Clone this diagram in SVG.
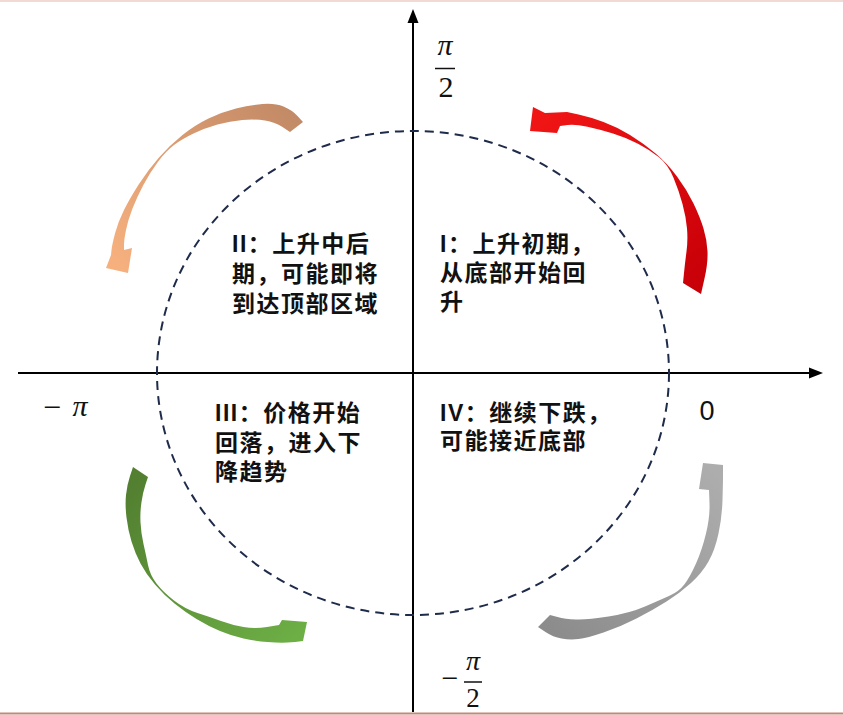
<svg xmlns="http://www.w3.org/2000/svg" width="843" height="715" viewBox="0 0 843 715">
<defs>
<style>
.q{font-family:"Liberation Sans","Noto Sans CJK SC",sans-serif;font-weight:bold;font-size:23px;letter-spacing:1.5px;fill:#111}
.m{font-family:"Liberation Serif","DejaVu Serif",serif;fill:#111}
.mi{font-style:italic}
.ax{stroke:#000;stroke-width:2;fill:none}
</style>
<linearGradient id="gRed" gradientUnits="userSpaceOnUse" x1="693" y1="290" x2="540" y2="118">
<stop offset="0" stop-color="#C80008"/><stop offset="1" stop-color="#F01515"/>
</linearGradient>
<linearGradient id="gBrown" gradientUnits="userSpaceOnUse" x1="296" y1="118" x2="118" y2="265">
<stop offset="0" stop-color="#C28A66"/><stop offset="1" stop-color="#F6B07E"/>
</linearGradient>
<linearGradient id="gGreen" gradientUnits="userSpaceOnUse" x1="140" y1="472" x2="300" y2="632">
<stop offset="0" stop-color="#527F30"/><stop offset="1" stop-color="#6DAE45"/>
</linearGradient>
<linearGradient id="gGray" gradientUnits="userSpaceOnUse" x1="544" y1="621" x2="713" y2="470">
<stop offset="0" stop-color="#8C8C8C"/><stop offset="1" stop-color="#ADADAD"/>
</linearGradient>
</defs>
<rect width="843" height="715" fill="#fff"/>
<line x1="0" y1="1" x2="843" y2="1" stroke="#F3D9D3" stroke-width="2"/>
<line x1="0" y1="713.5" x2="843" y2="713.5" stroke="#C4887A" stroke-width="2"/>

<g id="axes">
<line class="ax" x1="18" y1="373" x2="812" y2="373"/>
<polygon points="823,373 809,367.5 809,378.5" fill="#000"/>
<line class="ax" x1="413" y1="712" x2="413" y2="20"/>
<polygon points="413,9 407.5,23 418.5,23" fill="#000"/>
</g>

<g id="cycle-circle">
<ellipse cx="413" cy="373" rx="256" ry="242" fill="none" stroke="#1F2B4A" stroke-width="2" stroke-dasharray="9 6"/>
</g>

<g id="axis-labels">
<text class="m mi" x="445" y="55" font-size="30" text-anchor="middle">π</text>
<line x1="435" y1="68.5" x2="455" y2="68.5" stroke="#111" stroke-width="1.5"/>
<text class="m" x="446" y="97" font-size="30" text-anchor="middle">2</text>
<text class="m" x="450" y="688" font-size="30" text-anchor="middle">−</text>
<text class="m mi" x="473" y="670" font-size="28" text-anchor="middle">π</text>
<line x1="464" y1="682" x2="482" y2="682" stroke="#111" stroke-width="1.5"/>
<text class="m" x="473" y="707" font-size="27" text-anchor="middle">2</text>
<text class="m" x="43" y="418" font-size="32">−</text>
<text class="m mi" x="80" y="416" font-size="30" text-anchor="middle">π</text>
<text x="707" y="420" font-size="27" text-anchor="middle" font-family="Liberation Sans, Arial, sans-serif" fill="#111">0</text>
</g>

<g id="connectors">
<path id="arrow-I" fill="url(#gRed)" d="M701,294 L704.5,278.5 Q708,263 707.5,251.5 Q707,240 703.5,228.5 Q700,217 693.5,203.5 Q687,190 677,176.5 Q667,163 655,153 Q643,143 630,135 Q617,127 603.5,122 Q590,117 578.5,114.5 L567,112 L545,113 L533,107 L530,131 L557,133 L560,126 L567.5,125 Q575,124 587.5,126.75 Q600,129.5 613,133.5 Q626,137.5 638,143.75 Q650,150 659,157.25 Q668,164.5 673.5,177.75 Q679,191 682.5,204 Q686,217 687,228.5 Q688,240 686.5,251.5 Q685,263 684,273 L683,283 Z"/>
<path id="arrow-II" fill="url(#gBrown)" d="M303,122 L297.5,116 Q292,110 283.5,106.5 Q275,103 262.5,104 Q250,105 236,108.5 Q222,112 208.5,118.5 Q195,125 182.5,135 Q170,145 159,157.5 Q148,170 139,184 Q130,198 124,210 Q118,222 115,233.5 Q112,245 111.5,250 L111,255 L106,268 L128,273 L132,248 L124,250 L124,245 Q124,240 126,230 Q128,220 132.5,208.5 Q137,197 143.5,184.75 Q150,172.5 158,161.75 Q166,151 174,145 Q182,139 193.5,133.5 Q205,128 217.5,124.5 Q230,121 242.5,120 Q255,119 265,120.5 Q275,122 282.5,127 L290,132 Z"/>
<path id="arrow-III" fill="url(#gGreen)" d="M133,467 L130,476 Q127,485 126,495 Q125,505 126.5,517.5 Q128,530 131.5,541.5 Q135,553 140.5,563.5 Q146,574 155,584.5 Q164,595 174.5,603.5 Q185,612 196.5,619 Q208,626 220,631 Q232,636 243.5,638.5 Q255,641 267.5,642 Q280,643 287.5,642.5 L295,642 L303,641 L307,622 L282,620 L279,625 L267,627 Q255,629 243.5,627 Q232,625 221,621 Q210,617 197.5,613 Q185,609 174,600.5 Q163,592 156.5,583.5 Q150,575 148,565 Q146,555 143.5,544 Q141,533 140.5,522.5 Q140,512 141.5,502 Q143,492 145.5,484.5 L148,477 Z"/>
<path id="arrow-IV" fill="url(#gGray)" d="M538,627 L545.5,632 Q553,637 561.5,638.5 Q570,640 578.5,639 Q587,638 603.5,632.5 Q620,627 636.5,618.5 Q653,610 666.5,601.5 Q680,593 691,583 Q702,573 708.5,561.5 Q715,550 718.5,533.5 Q722,517 722.5,500 Q723,483 723,478 L723,473 L723,465 L703,463 L699,489 L709,490 L709.5,503.5 Q710,517 706,533.5 Q702,550 696,563.5 Q690,577 684.5,584.25 Q679,591.5 669.5,595.75 Q660,600 645,606.5 Q630,613 608.5,616.5 Q587,620 576,619.5 Q565,619 557.5,617 L550,615 Z"/>
</g>

<g id="node-I">
<text class="q" x="440" y="252">I：上升初期，</text>
<text class="q" x="440" y="281">从底部开始回</text>
<text class="q" x="440" y="310">升</text>
</g>
<g id="node-II">
<text class="q" x="232" y="252">II：上升中后</text>
<text class="q" x="232" y="282">期，可能即将</text>
<text class="q" x="232" y="312">到达顶部区域</text>
</g>
<g id="node-III">
<text class="q" x="215" y="421">III：价格开始</text>
<text class="q" x="215" y="451">回落，进入下</text>
<text class="q" x="215" y="480">降趋势</text>
</g>
<g id="node-IV">
<text class="q" x="440" y="421">IV：继续下跌，</text>
<text class="q" x="440" y="449">可能接近底部</text>
</g>
</svg>
